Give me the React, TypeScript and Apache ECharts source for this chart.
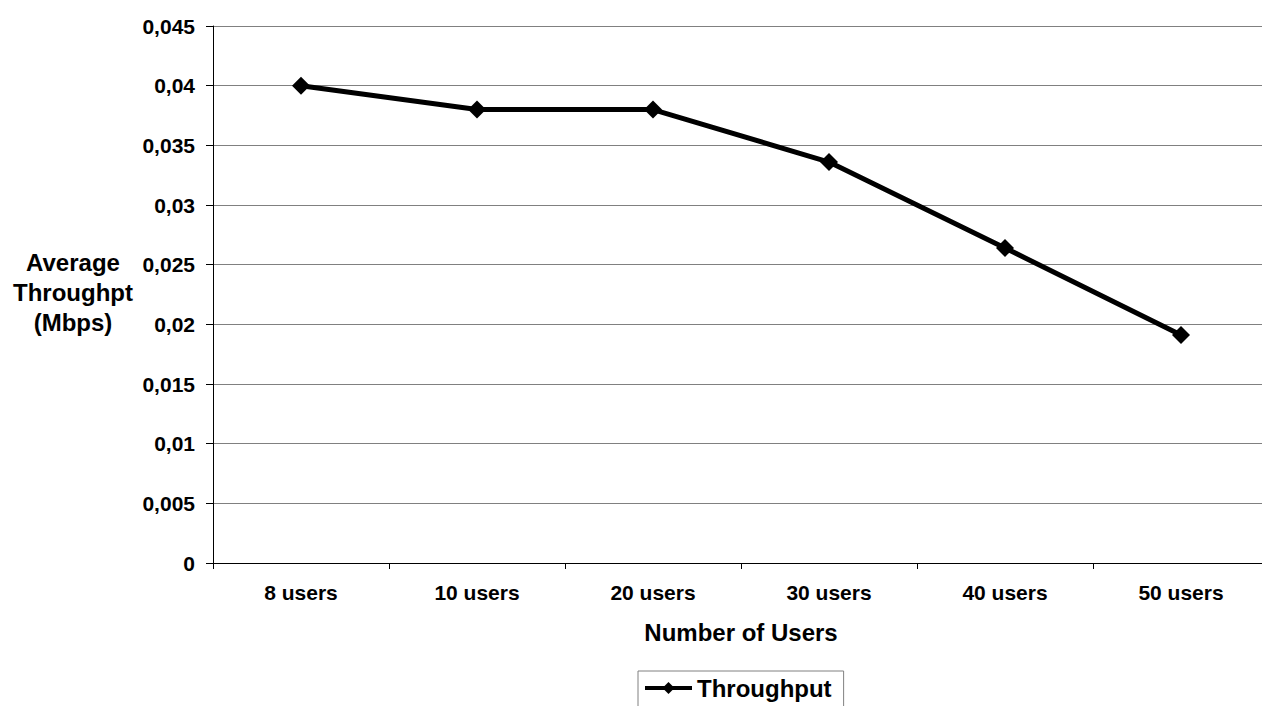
import React, { useEffect, useRef } from "react";
import * as echarts from "echarts";

const categories = ["8 users", "10 users", "20 users", "30 users", "40 users", "50 users"];
const throughput = [0.04, 0.038, 0.038, 0.0336, 0.0264, 0.0191];
const seriesName = "Throughput";
const xTitle = "Number of Users";
const yTitleLines = ["Average", "Throughpt", "(Mbps)"];

const FONT = "Arial, 'Liberation Sans', sans-serif";

const fmt = (v: number) => (v === 0 ? "0" : String(+v.toFixed(3)).replace(".", ","));

export default function App() {
  const ref = useRef<HTMLDivElement>(null);

  useEffect(() => {
    document.body.style.margin = "0";
    const chart = echarts.init(ref.current!, null, { renderer: "svg" });
    chart.setOption({
      animation: false,
      backgroundColor: "#ffffff",
      textStyle: { fontFamily: FONT },
      // plot area runs a little past the right edge of the canvas
      grid: { left: 213, right: -7, top: 26, bottom: 143, containLabel: false, outerBoundsMode: "none" },
      xAxis: {
        type: "category",
        data: categories,
        boundaryGap: true,
        axisLine: { show: true, lineStyle: { color: "#000", width: 1 } },
        axisTick: { show: true, inside: false, length: 6, lineStyle: { color: "#000" } },
        axisLabel: { margin: 19, color: "#000", fontSize: 21, fontWeight: "bold", fontFamily: FONT },
        splitLine: { show: false },
        name: xTitle,
        nameLocation: "middle",
        nameGap: 57,
        nameTextStyle: { color: "#000", fontSize: 24, fontWeight: "bold", fontFamily: FONT },
      },
      yAxis: {
        type: "value",
        min: 0,
        max: 0.045,
        interval: 0.005,
        axisLine: { show: true, lineStyle: { color: "#000", width: 1 } },
        axisTick: { show: true, length: 7, lineStyle: { color: "#000" } },
        axisLabel: {
          margin: 18,
          color: "#000",
          fontSize: 21,
          fontWeight: "bold",
          fontFamily: FONT,
          formatter: (v: number) => fmt(v),
        },
        splitLine: { show: true, lineStyle: { color: "#808080", width: 1 } },
      },
      legend: {
        show: true,
        left: 638,
        top: 671,
        orient: "horizontal",
        data: [seriesName],
        borderColor: "#808080",
        borderWidth: 1,
        padding: [5, 12, 12, 5],
        itemWidth: 47,
        itemHeight: 15,
        lineStyle: { width: 4 },
        textStyle: { color: "#000", fontSize: 24, fontWeight: "bold", fontFamily: FONT },
      },
      graphic: [
        {
          type: "text",
          x: 73,
          y: 292,
          style: {
            text: yTitleLines.join("\n"),
            align: "center",
            verticalAlign: "middle",
            fill: "#000",
            font: `bold 24px ${FONT}`,
            lineHeight: 30,
          },
        },
      ],
      series: [
        {
          name: seriesName,
          type: "line",
          data: throughput,
          symbol: "diamond",
          symbolSize: 18,
          lineStyle: { color: "#000", width: 5 },
          itemStyle: { color: "#000" },
        },
      ],
    });
    return () => chart.dispose();
  }, []);

  return <div ref={ref} style={{ width: 1262, height: 706 }} />;
}
